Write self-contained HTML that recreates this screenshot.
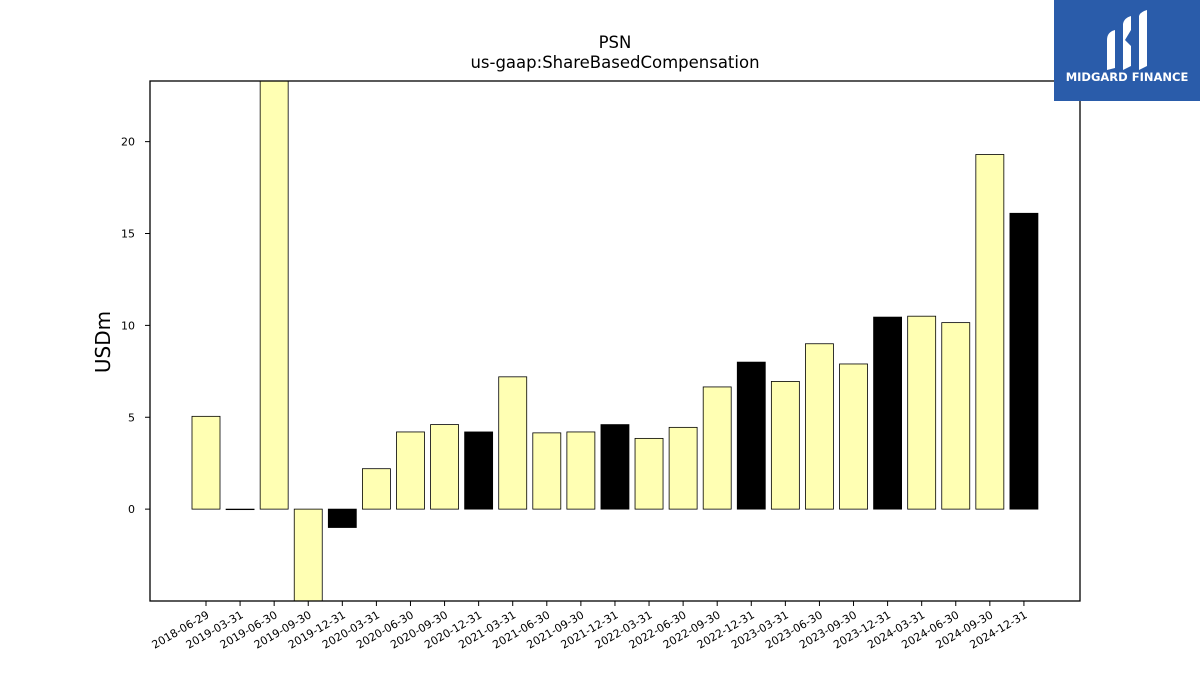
<!DOCTYPE html>
<html><head><meta charset="utf-8"><style>
body{margin:0;background:#fff;}
svg text{font-family:"DejaVu Sans","Liberation Sans",sans-serif;}
</style></head><body>
<svg id="chart" width="1200" height="675" viewBox="0 0 1200 675">
<text x="615" y="48" text-anchor="middle" font-size="16.5">PSN</text>
<text x="615" y="68" text-anchor="middle" font-size="16.5">us-gaap:ShareBasedCompensation</text>
<text x="0" y="0" transform="translate(110,342) rotate(-90)" text-anchor="middle" font-size="20">USDm</text>
<g id="bars"></g>
<g id="yticks"></g>
<g id="xticks"></g>
<rect x="150" y="81" width="930" height="520" fill="none" stroke="#000" stroke-width="1.3"/>
<g>
<rect x="1054" y="0" width="146" height="101" fill="#2a5caa"/>
<path d="M1107 40 Q1107 32 1115 30 L1115 68 L1107 70 Z" fill="#fff"/>
<path d="M1123 24 Q1124 18 1131 16 L1131 30 L1125 40 L1131 46 L1131 66 L1123 70 Z" fill="#fff"/>
<path d="M1139 16 Q1140 12 1147 10 L1147 66 L1139 70 Z" fill="#fff"/>
<text x="1127" y="81" text-anchor="middle" font-size="11.5" font-weight="bold" fill="#fff">MIDGARD FINANCE</text>
</g>
</svg>
<script>
const categories=["2018-06-29","2019-03-31","2019-06-30","2019-09-30","2019-12-31","2020-03-31","2020-06-30","2020-09-30","2020-12-31","2021-03-31","2021-06-30","2021-09-30","2021-12-31","2022-03-31","2022-06-30","2022-09-30","2022-12-31","2023-03-31","2023-06-30","2023-09-30","2023-12-31","2024-03-31","2024-06-30","2024-09-30","2024-12-31"];
const values=[5.05,0,25,-6,-1.0,2.2,4.2,4.6,4.2,7.2,4.15,4.2,4.6,3.85,4.45,6.65,8.0,6.95,9.0,7.9,10.45,10.5,10.15,19.3,16.1];
const yTicks=[0,5,10,15,20];
const yMin=-5.0,yMax=23.3;
const pTop=81,pBottom=601,pLeft=150,pRight=1080;
const NS="http://www.w3.org/2000/svg";
function yS(v){return pBottom-(v-yMin)/(yMax-yMin)*(pBottom-pTop);}
function xS(i){return 206+i*34.08;}
const bars=document.getElementById('bars');
const clip=document.createElementNS(NS,'clipPath');clip.setAttribute('id','pc');
const cr=document.createElementNS(NS,'rect');cr.setAttribute('x',pLeft);cr.setAttribute('y',pTop);cr.setAttribute('width',pRight-pLeft);cr.setAttribute('height',pBottom-pTop);
clip.appendChild(cr);bars.appendChild(clip);
bars.setAttribute('clip-path','url(#pc)');
categories.forEach((c,i)=>{
 const v=values[i];const r=document.createElementNS(NS,'rect');
 const y0=yS(0),y1=yS(v);
 r.setAttribute('x',xS(i)-14);r.setAttribute('width',28);
 r.setAttribute('y',Math.min(y0,y1));r.setAttribute('height',Math.max(Math.abs(y1-y0),0.5));
 r.setAttribute('fill',c.endsWith('12-31')?'#000':'#ffffb3');
 r.setAttribute('stroke','#000');r.setAttribute('stroke-width','0.8');
 
 
 bars.appendChild(r);
});
const yt=document.getElementById('yticks');
yTicks.forEach(t=>{
 const l=document.createElementNS(NS,'line');l.setAttribute('x1',pLeft-5);l.setAttribute('x2',pLeft);l.setAttribute('y1',yS(t));l.setAttribute('y2',yS(t));l.setAttribute('stroke','#000');
 
 
 yt.appendChild(l);
 const tx=document.createElementNS(NS,'text');tx.setAttribute('x',pLeft-15);tx.setAttribute('y',yS(t)+4);tx.setAttribute('text-anchor','end');tx.setAttribute('font-size','11');tx.textContent=t;
 
 
 yt.appendChild(tx);
});
const xt=document.getElementById('xticks');
categories.forEach((c,i)=>{
 const l=document.createElementNS(NS,'line');l.setAttribute('x1',xS(i));l.setAttribute('x2',xS(i));l.setAttribute('y1',pBottom);l.setAttribute('y2',pBottom+5);l.setAttribute('stroke','#000');
 
 
 xt.appendChild(l);
 const tx=document.createElementNS(NS,'text');tx.setAttribute('text-anchor','end');tx.setAttribute('font-size','11');
 tx.setAttribute('transform','translate('+(xS(i)+4)+','+(pBottom+16)+') rotate(-30)');tx.textContent=c;
 
 
 xt.appendChild(tx);
});
</script>
</body></html>
